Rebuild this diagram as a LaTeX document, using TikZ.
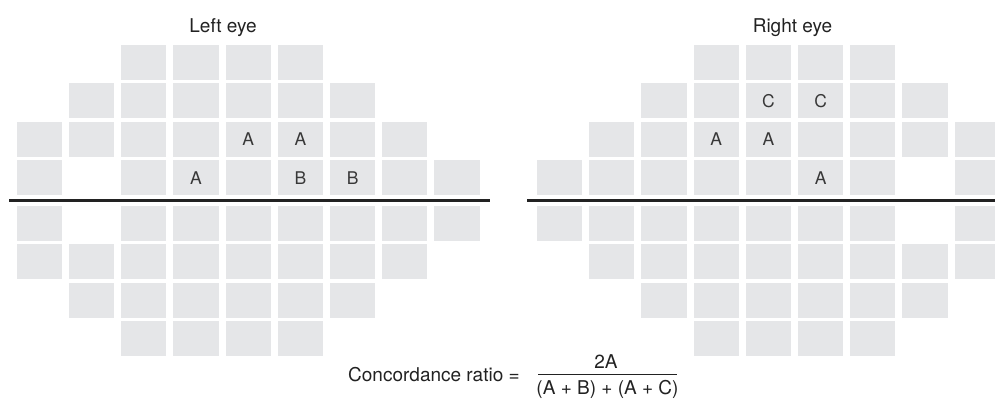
\documentclass[tikz,border=0pt]{standalone}
\usepackage{fontspec}
\setmainfont{TeX Gyre Heros}
\definecolor{cellgray}{RGB}{229,230,232}
\definecolor{inkgray}{RGB}{34,34,34}
\begin{document}
\begin{tikzpicture}[x=1pt,y=-1pt,
  cell/.style={fill=cellgray, draw=none, minimum width=45.3pt, minimum height=35pt, inner sep=0pt},
  celltext/.style={text=inkgray!90, font=\fontsize{17.5}{20}\selectfont, inner sep=0pt},
  title/.style={text=inkgray, font=\fontsize{19}{22}\selectfont, anchor=base, inner sep=0pt},
  eqtext/.style={text=inkgray, font=\fontsize{19}{22}\selectfont, anchor=base, inner sep=0pt},
  midline/.style={draw=inkgray, line width=3pt},
  fracbar/.style={draw=inkgray, line width=1pt}]
\useasboundingbox (0,0) rectangle (995,399);

% row centres (y) for rows 0..7
\def\rowy#1{\ifcase#1 62.5\or 100.9\or 139.3\or 177.7\or 223.5\or 261.9\or 300.3\or 338.7\fi}

% left eye test grid
\foreach \r/\cols in {0/{2,3,4,5}, 1/{1,2,3,4,5,6}, 2/{0,1,2,3,4,5,6,7},
                      3/{0,2,3,4,5,6,7,8}, 4/{0,2,3,4,5,6,7,8},
                      5/{0,1,2,3,4,5,6,7}, 6/{1,2,3,4,5,6}, 7/{2,3,4,5}}{
  \foreach \c in \cols {
    \node[cell] (L-\c-\r) at ({39.4+52.2*\c}, {\rowy{\r}}) {};
  }
}

% right eye test grid
\foreach \r/\cols in {0/{3,4,5,6}, 1/{2,3,4,5,6,7}, 2/{1,2,3,4,5,6,7,8},
                      3/{0,1,2,3,4,5,6,8}, 4/{0,1,2,3,4,5,6,8},
                      5/{1,2,3,4,5,6,7,8}, 6/{2,3,4,5,6,7}, 7/{3,4,5,6}}{
  \foreach \c in \cols {
    \node[cell] (R-\c-\r) at ({559.6+52.2*\c}, {\rowy{\r}}) {};
  }
}

% defect labels
\node[celltext] at (L-4-2) {A};
\node[celltext] at (L-5-2) {A};
\node[celltext] at (L-3-3) {A};
\node[celltext] at (L-5-3) {B};
\node[celltext] at (L-6-3) {B};
\node[celltext] at (R-4-1) {C};
\node[celltext] at (R-5-1) {C};
\node[celltext] at (R-3-2) {A};
\node[celltext] at (R-4-2) {A};
\node[celltext] at (R-5-3) {A};

% horizontal meridians
\coordinate (lm-a) at (9,200.5);
\coordinate (lm-b) at (490,200.5);
\coordinate (rm-a) at (527,200.5);
\coordinate (rm-b) at (995,200.5);
\draw[midline] (lm-a) -- (lm-b);
\draw[midline] (rm-a) -- (rm-b);

% titles
\node[title] (lt) at (223,32) {Left eye};
\node[title] (rt) at (792.5,32) {Right eye};

% concordance ratio formula
\node[eqtext, anchor=base west] (eq) at (348,381) {Concordance ratio =};
\node[eqtext] (num) at (606,368) {2A};
\node[eqtext] (den) at (607.5,394) {(A + B) + (A + C)};
\coordinate (fb-a) at (538,374);
\coordinate (fb-b) at (677,374);
\draw[fracbar] (fb-a) -- (fb-b);
\end{tikzpicture}
\end{document}
